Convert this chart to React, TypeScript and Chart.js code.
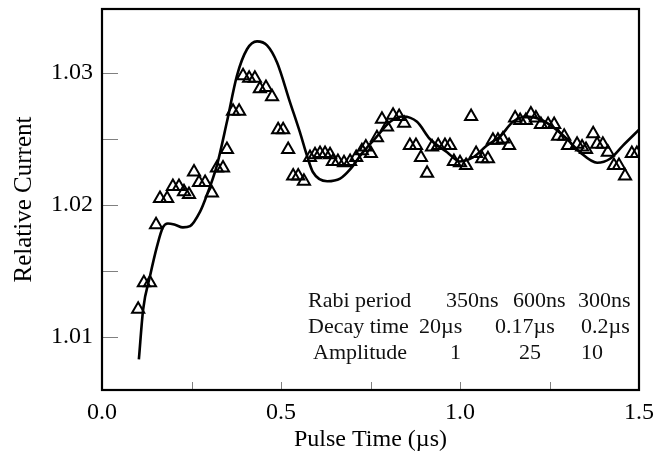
import React, { useEffect, useRef } from "react";
import { Chart, registerables } from "chart.js";

Chart.register(...registerables);

// Measured data (open triangles)
const measX = [0.101,0.117,0.134,0.151,0.162,0.182,0.198,0.215,0.229,0.243,0.257,0.271,0.288,0.307,0.321,0.338,0.349,0.366,0.383,0.394,0.411,0.427,0.441,0.458,0.475,0.492,0.506,0.520,0.534,0.548,0.564,0.581,0.595,0.609,0.623,0.637,0.645,0.659,0.676,0.693,0.710,0.726,0.737,0.751,0.768,0.782,0.796,0.813,0.830,0.844,0.860,0.877,0.891,0.908,0.922,0.939,0.958,0.972,0.983,1.000,1.017,1.031,1.045,1.062,1.078,1.092,1.106,1.120,1.137,1.154,1.168,1.184,1.198,1.212,1.226,1.246,1.263,1.274,1.291,1.302,1.327,1.341,1.352,1.372,1.383,1.399,1.413,1.430,1.444,1.461,1.480,1.494];
const measY = [1.0121,1.0141,1.0141,1.0185,1.0205,1.0205,1.0214,1.0214,1.0210,1.0208,1.0225,1.0217,1.0217,1.0209,1.0228,1.0228,1.0242,1.0271,1.0271,1.0298,1.0296,1.0296,1.0288,1.0289,1.0282,1.0257,1.0257,1.0242,1.0222,1.0222,1.0218,1.0236,1.0238,1.0239,1.0239,1.0238,1.0233,1.0233,1.0232,1.0233,1.0236,1.0241,1.0244,1.0239,1.0251,1.0265,1.0259,1.0268,1.0267,1.0262,1.0245,1.0245,1.0236,1.0224,1.0244,1.0245,1.0245,1.0245,1.0233,1.0232,1.0230,1.0267,1.0239,1.0235,1.0235,1.0249,1.0249,1.0250,1.0245,1.0266,1.0264,1.0264,1.0269,1.0266,1.0261,1.0261,1.0261,1.0252,1.0252,1.0245,1.0246,1.0244,1.0242,1.0254,1.0246,1.0246,1.0240,1.0230,1.0230,1.0222,1.0239,1.0239];

// Model curve (solid line)
const fitX = [0.103,0.115,0.134,0.154,0.170,0.184,0.204,0.226,0.246,0.274,0.288,0.321,0.349,0.377,0.405,0.433,0.461,0.489,0.525,0.553,0.573,0.589,0.629,0.665,0.693,0.729,0.768,0.805,0.841,0.880,0.916,0.964,1.000,1.036,1.075,1.112,1.148,1.187,1.224,1.260,1.299,1.335,1.383,1.419,1.455,1.500];
const fitY = [1.0083,1.0121,1.0146,1.0169,1.0183,1.0186,1.0185,1.0183,1.0184,1.0195,1.0204,1.0230,1.0263,1.0298,1.0318,1.0324,1.0321,1.0308,1.0278,1.0255,1.0237,1.0225,1.0218,1.0220,1.0227,1.0240,1.0252,1.0263,1.0267,1.0263,1.0250,1.0240,1.0233,1.0236,1.0245,1.0252,1.0263,1.0267,1.0265,1.0259,1.0250,1.0240,1.0232,1.0235,1.0245,1.0257];

// Axes
const xLabelValues = [0, 0.5, 1.0, 1.5];
const yLabelValues = [1.01, 1.02, 1.03];
const xTickMarks = [0.25, 0.5, 0.75, 1.0, 1.25];
const yTickMarks = [1.01, 1.015, 1.02, 1.025, 1.03];
const xMin = 0;
const xMax = 1.5;
const yMin = 1.00598;
const yMax = 1.03485;
const xTitle = "Pulse Time (µs)";
const yTitle = "Relative Current";

// Inset table
const tableRowLabels = ["Rabi period", "Decay time", "Amplitude"];
const rabiPeriods = ["350ns", "600ns", "300ns"];
const decayTimes = ["20µs", "0.17µs", "0.2µs"];
const amplitudes = ["1", "25", "10"];

const FONT = '"Liberation Serif", "Times New Roman", serif';

const framePlugin = {
  id: "framePlugin",
  afterDatasetsDraw(chart: any) {
    const { ctx, chartArea, scales } = chart;
    const { left, right, top, bottom } = chartArea;
    ctx.save();
    // inward tick marks
    ctx.strokeStyle = "#808080";
    ctx.lineWidth = 1;
    ctx.beginPath();
    yTickMarks.forEach((v) => {
      const y = Math.round(scales.y.getPixelForValue(v)) + 0.5;
      ctx.moveTo(left, y);
      ctx.lineTo(left + 16, y);
    });
    xTickMarks.forEach((v) => {
      const x = Math.round(scales.x.getPixelForValue(v)) + 0.5;
      ctx.moveTo(x, bottom);
      ctx.lineTo(x, bottom - 8);
    });
    ctx.stroke();
    // frame
    ctx.strokeStyle = "#000";
    ctx.lineWidth = 2.2;
    ctx.strokeRect(left, top, right - left, bottom - top);
    ctx.restore();
  },
  afterDraw(chart: any) {
    const { ctx } = chart;
    ctx.save();
    ctx.fillStyle = "#111";
    ctx.font = `22px ${FONT}`;
    ctx.textBaseline = "alphabetic";
    ctx.textAlign = "left";
    const rows = [
      [tableRowLabels[0], ...rabiPeriods],
      [tableRowLabels[1], ...decayTimes],
      [tableRowLabels[2], ...amplitudes],
    ];
    const colX = [
      [308, 446, 513, 578],
      [308, 419, 495, 581],
      [313, 450, 519, 581],
    ];
    const baseY = [307, 333, 359];
    rows.forEach((row, r) => {
      row.forEach((txt, c) => {
        ctx.fillText(txt, colX[r][c], baseY[r]);
      });
    });
    ctx.restore();
  },
};

export default function App() {
  const canvasRef = useRef<HTMLCanvasElement | null>(null);

  useEffect(() => {
    if (!canvasRef.current) return;
    const measured = measX.map((x, i) => ({ x, y: measY[i] }));
    const fit = fitX.map((x, i) => ({ x, y: fitY[i] }));

    const chart = new Chart(canvasRef.current, {
      type: "scatter",
      data: {
        datasets: [
          {
            label: "model",
            data: fit,
            showLine: true,
            borderColor: "#000",
            borderWidth: 2.6,
            pointRadius: 0,
            cubicInterpolationMode: "monotone",
            order: 2,
          },
          {
            label: "measured",
            data: measured,
            showLine: false,
            pointStyle: "triangle",
            pointRadius: 7,
            borderColor: "#000",
            borderWidth: 2,
            backgroundColor: "rgba(0,0,0,0)",
            order: 1,
          },
        ],
      },
      options: {
        animation: false,
        responsive: true,
        maintainAspectRatio: false,
        layout: { padding: { top: 9, right: 27, left: 0, bottom: 0 } },
        plugins: {
          legend: { display: false },
          tooltip: { enabled: false },
        },
        scales: {
          x: {
            type: "linear",
            min: xMin,
            max: xMax,
            grid: { display: false, drawTicks: false },
            border: { display: false },
            afterBuildTicks: (scale: any) => {
              scale.ticks = xLabelValues.map((v) => ({ value: v }));
            },
            afterFit: (scale: any) => {
              scale.height = 71;
              scale.paddingLeft = 0;
              scale.paddingRight = 0;
            },
            ticks: {
              padding: 8,
              color: "#000",
              font: { family: FONT, size: 24 },
              maxRotation: 0,
              autoSkip: false,
              callback: (v: any) => Number(v).toFixed(1),
            },
            title: {
              display: true,
              text: xTitle,
              color: "#000",
              font: { family: FONT, size: 24 },
              padding: { top: 0, bottom: 7 },
            },
          },
          y: {
            type: "linear",
            min: yMin,
            max: yMax,
            grid: { display: false, drawTicks: false },
            border: { display: false },
            afterBuildTicks: (scale: any) => {
              scale.ticks = yLabelValues.map((v) => ({ value: v }));
            },
            afterFit: (scale: any) => {
              scale.width = 102;
              scale.paddingTop = 0;
              scale.paddingBottom = 0;
            },
            ticks: {
              padding: 9,
              color: "#000",
              font: { family: FONT, size: 24 },
              autoSkip: false,
              callback: (v: any) => Number(v).toFixed(2),
            },
            title: {
              display: true,
              text: yTitle,
              color: "#000",
              font: { family: FONT, size: 25 },
              padding: { top: 9, bottom: 0 },
            },
          },
        },
      },
      plugins: [framePlugin],
    });

    return () => chart.destroy();
  }, []);

  return (
    <div
      style={{
        position: "absolute",
        left: 0,
        top: 0,
        width: 666,
        height: 461,
        background: "#fff",
      }}
    >
      <canvas ref={canvasRef} />
    </div>
  );
}
